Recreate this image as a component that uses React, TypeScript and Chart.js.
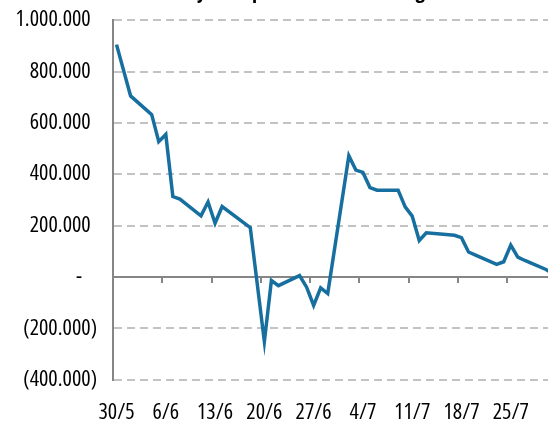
import React, { useEffect, useRef } from "react";
import { Chart, registerables } from "chart.js";

Chart.register(...registerables);

// Dates of observations (day/month), starting 30/5
const dates = [
  "30/5", "1/6", "4/6", "5/6", "6/6", "7/6", "8/6", "11/6", "12/6", "13/6",
  "14/6", "18/6", "20/6", "21/6", "22/6", "25/6", "26/6", "27/6", "28/6", "29/6",
  "2/7", "3/7", "4/7", "5/7", "6/7", "9/7", "10/7", "11/7", "12/7", "13/7",
  "17/7", "18/7", "19/7", "20/7", "23/7", "24/7", "25/7", "26/7", "27/7", "30/7",
  "31/7",
];

const netValues = [
  905000, 705000, 632000, 527000, 555000, 313000, 303000, 238000, 292000, 209000,
  274000, 192000, -252000, -14000, -34000, 5000, -40000, -111000, -43000, -65000,
  472000, 416000, 407000, 348000, 338000, 338000, 273000, 237000, 142000, 172000,
  162000, 153000, 97000, 85000, 49000, 59000, 124000, 77000, 64000, 29000,
  12000,
];

const xTickLabels = ["30/5", "6/6", "13/6", "20/6", "27/6", "4/7", "11/7", "18/7", "25/7"];
const yTickValues = [1000000, 800000, 600000, 400000, 200000, 0, -200000, -400000];

const titleText = "Daily total purchases less selling";

// days since 30/5
function dayOffset(d: string): number {
  const [day, month] = d.split("/").map(Number);
  if (month === 5) return day - 30;
  if (month === 6) return day + 1;
  return day + 31;
}

function fmt(v: number): string {
  if (v === 0) return "-\u2002 ";
  const s = Math.abs(v).toString().replace(/\B(?=(\d{3})+(?!\d))/g, ".");
  return v < 0 ? "(" + s + ")" : s + " \u200A";
}

const FONT = "'Open Sans', 'Noto Sans', sans-serif";

export default function App() {
  const ref = useRef<HTMLCanvasElement | null>(null);

  useEffect(() => {
    if (!ref.current) return;
    const points = dates.map((d, i) => ({ x: dayOffset(d), y: netValues[i] }));
    const W = 590;
    const left = 113;
    const pxPerDay = 7.04;
    const xMin = -0.5;
    const xMax = (W - left) / pxPerDay - 0.5;
    const labelDays = xTickLabels.map((l) => dayOffset(l));
    const markDays: number[] = [];
    for (let v = -0.5; v <= xMax; v += 7) markDays.push(v);

    const chart = new Chart(ref.current, {
      type: "line",
      data: {
        datasets: [
          {
            data: points,
            borderColor: "#176fa0",
            borderWidth: 3.5,
            pointRadius: 0,
            tension: 0,
            fill: false,
            xAxisID: "x",
            yAxisID: "y",
          },
        ],
      },
      options: {
        animation: false,
        responsive: false,
        maintainAspectRatio: false,
        layout: { padding: 0 },
        plugins: {
          legend: { display: false },
          tooltip: { enabled: false },
          title: {
            display: true,
            text: titleText,
            color: "#000",
            font: { family: FONT, size: 21, weight: "bold condensed" as any },
            padding: { top: 0, bottom: 16 },
          },
        },
        scales: {
          x: {
            type: "linear",
            position: { y: 0 } as any,
            min: xMin,
            max: xMax,
            afterBuildTicks: (s: any) => {
              s.ticks = markDays.map((v) => ({ value: v }));
            },
            afterFit: (s: any) => {
              s.height = 0;
            },
            ticks: { display: false },
            grid: {
              drawOnChartArea: false,
              drawTicks: true,
              tickLength: 5,
              color: "#868686",
              lineWidth: 2,
            },
            border: { display: true, color: "#868686", width: 2 },
          },
          x2: {
            type: "linear",
            position: "bottom",
            min: xMin,
            max: xMax,
            afterBuildTicks: (s: any) => {
              s.ticks = labelDays.map((v) => ({ value: v }));
            },
            ticks: {
              autoSkip: false,
              maxRotation: 0,
              minRotation: 0,
              padding: 20,
              color: "#000",
              font: { family: FONT, size: 22, weight: "condensed" as any },
              callback: (_v: any, i: number) => xTickLabels[i],
            },
            grid: { display: false, drawTicks: false },
            border: { display: false },
          },
          y: {
            type: "linear",
            min: -400000,
            max: 1000000,
            afterBuildTicks: (s: any) => {
              s.ticks = yTickValues.map((v) => ({ value: v }));
            },
            afterFit: (s: any) => {
              s.width = left;
            },
            ticks: {
              padding: 16,
              color: "#000",
              font: { family: FONT, size: 22, weight: "condensed" as any },
              callback: (v: any) => fmt(Number(v)),
            },
            grid: {
              color: "#c3c3c3",
              lineWidth: 2,
              drawTicks: false,
            },
            border: { display: true, color: "#868686", width: 2, dash: [8, 5] },
          },
        },
      },
    });
    return () => chart.destroy();
  }, []);

  return (
    <div
      style={{
        position: "fixed",
        left: 0,
        top: 0,
        width: 548,
        height: 423,
        overflow: "hidden",
        background: "#fff",
      }}
    >
      <canvas
        ref={ref}
        width={590}
        height={467}
        style={{ position: "absolute", left: 0, top: -21, width: 590, height: 467 }}
      />
    </div>
  );
}
